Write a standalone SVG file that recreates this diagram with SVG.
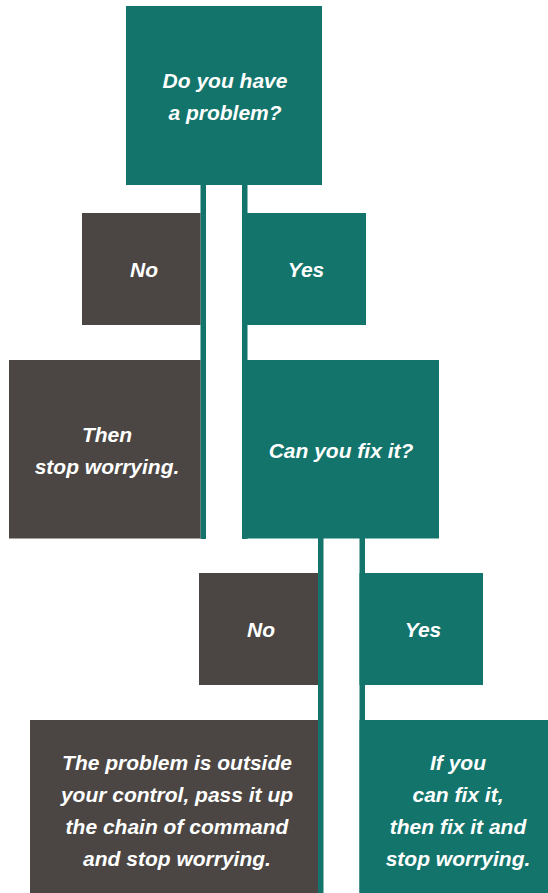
<svg xmlns="http://www.w3.org/2000/svg" width="548" height="893" viewBox="0 0 548 893">
<style>
.t{fill:#13746B}
.d{fill:#4B4643}
text{font-family:"Liberation Sans",Arial,sans-serif;font-size:21px;font-weight:bold;font-style:italic;fill:#FFFFFF;text-anchor:middle}
</style>
<rect width="548" height="893" fill="#FFFFFF"/>
<g id="connectors">
<rect class="t" x="200.5" y="184" width="5.5" height="355"/>
<rect class="t" x="242" y="184" width="5.5" height="355"/>
<rect class="t" x="318" y="538" width="5.5" height="355"/>
<rect class="t" x="359.5" y="538" width="5.5" height="355"/>
</g>
<g id="q1">
<rect class="t" x="126" y="6" width="196" height="179"/>
<text x="225" y="87.5">Do you have</text>
<text x="225" y="119.5">a problem?</text>
</g>
<g id="no1">
<rect class="d" x="82" y="213" width="118.5" height="112"/>
<text x="144" y="276.5">No</text>
</g>
<g id="yes1">
<rect class="t" x="243" y="213" width="123" height="112"/>
<text x="306" y="276.5">Yes</text>
</g>
<g id="stop1">
<rect class="d" x="9" y="360" width="191.5" height="178.5"/>
<text x="107" y="441.5">Then</text>
<text x="107" y="473.5">stop worrying.</text>
</g>
<g id="q2">
<rect class="t" x="242" y="360" width="197" height="178.5"/>
<text x="341" y="457.5">Can you fix it?</text>
</g>
<g id="no2">
<rect class="d" x="199" y="573" width="119" height="112"/>
<text x="261" y="636.5">No</text>
</g>
<g id="yes2">
<rect class="t" x="359.5" y="573" width="123.5" height="112"/>
<text x="423" y="636.5">Yes</text>
</g>
<g id="outside">
<rect class="d" x="30" y="720" width="288" height="173"/>
<text x="177" y="769.5">The problem is outside</text>
<text x="177" y="801.5">your control, pass it up</text>
<text x="177" y="833.5">the chain of command</text>
<text x="177" y="865.5">and stop worrying.</text>
</g>
<g id="fix">
<rect class="t" x="359.5" y="720" width="188.5" height="173"/>
<text x="458" y="769.5">If you</text>
<text x="458" y="801.5">can fix it,</text>
<text x="458" y="833.5">then fix it and</text>
<text x="458" y="865.5">stop worrying.</text>
</g>
</svg>
